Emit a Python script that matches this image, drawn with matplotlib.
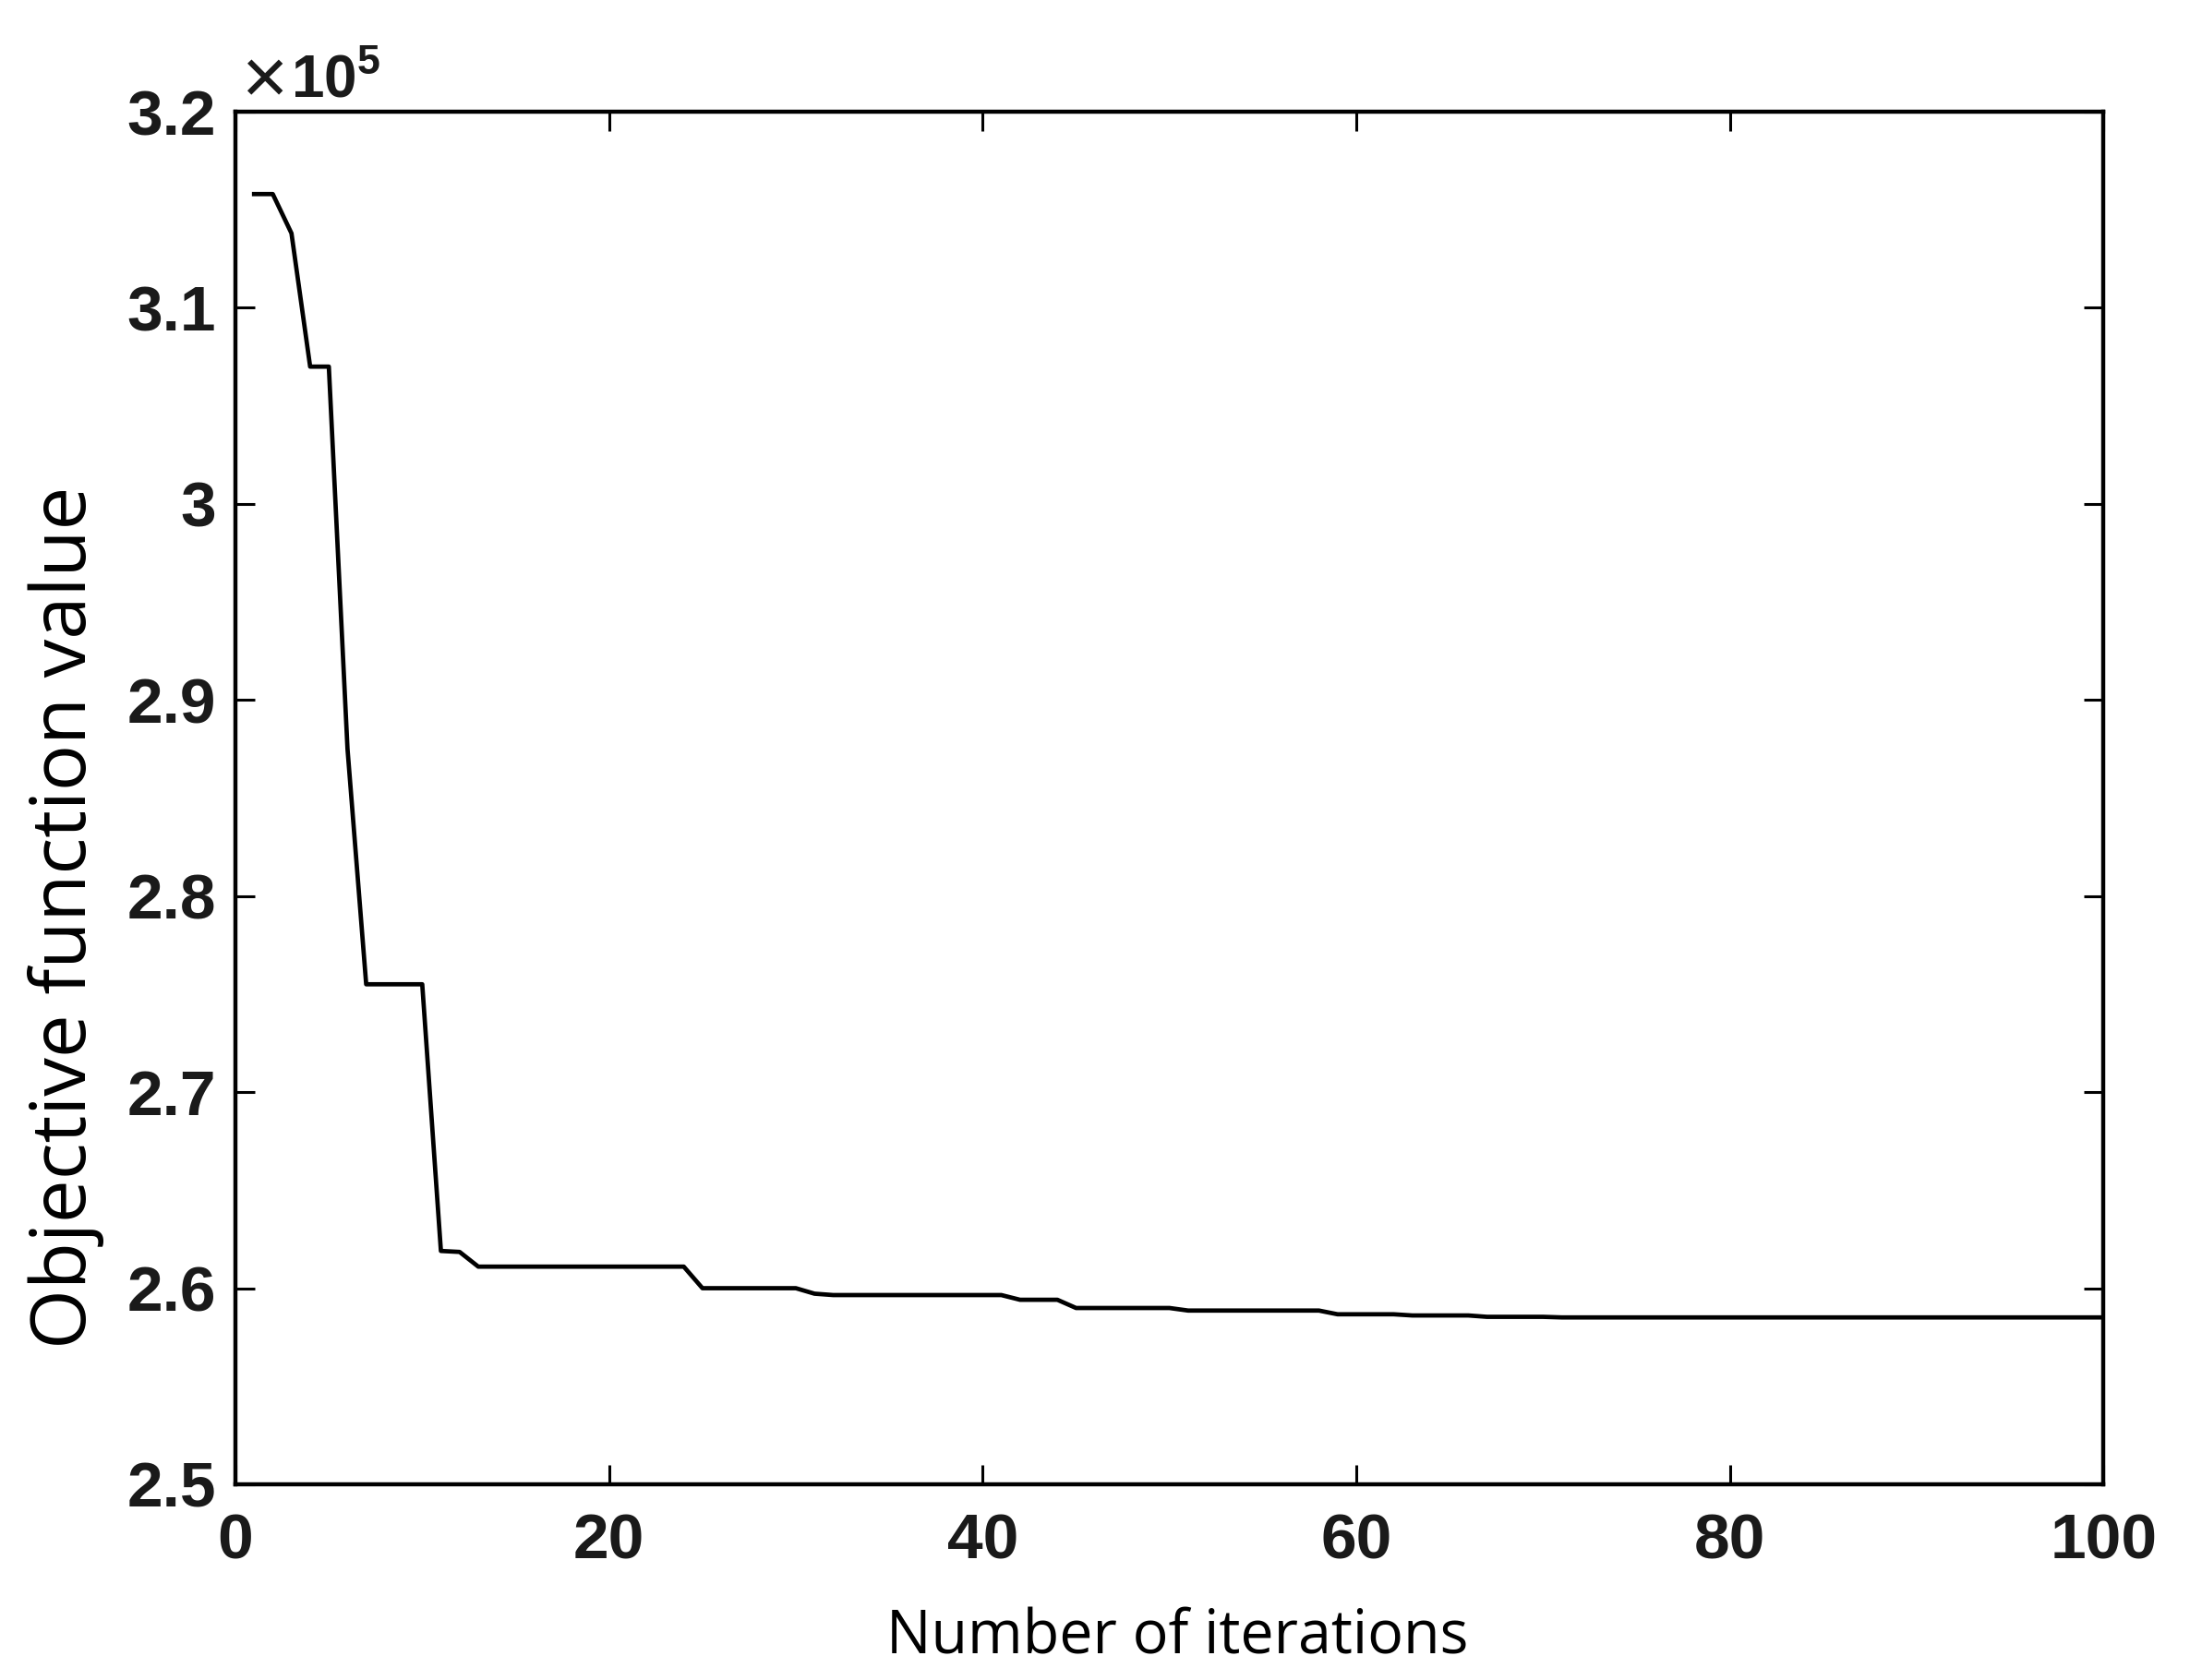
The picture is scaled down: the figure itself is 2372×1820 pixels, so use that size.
import matplotlib
matplotlib.use('Agg')
import matplotlib.pyplot as plt
from matplotlib.ticker import FuncFormatter, MultipleLocator

# objective value per iteration
iterations = list(range(1, 101))
objective = [
    315800, 315800, 313800, 307000, 307000, 287500, 275500, 275500, 275500, 275500,
    261900, 261850, 261100, 261100, 261100, 261100, 261100, 261100, 261100, 261100,
    261100, 261100, 261100, 261100, 260000, 260000, 260000, 260000, 260000, 260000,
    259720, 259650, 259650, 259650, 259650, 259650, 259650, 259650, 259650, 259650,
    259650, 259410, 259410, 259410, 258990, 258990, 258990, 258990, 258990, 258990,
    258860, 258860, 258860, 258860, 258860, 258860, 258860, 258860, 258670, 258670,
    258670, 258670, 258610, 258610, 258610, 258610, 258540, 258540, 258540, 258540,
    258510, 258510, 258510, 258510, 258510, 258510, 258510, 258510, 258510, 258510,
    258510, 258510, 258510, 258510, 258510, 258510, 258510, 258510, 258510, 258510,
    258510, 258510, 258510, 258510, 258510, 258510, 258510, 258510, 258510, 258510,
]

plt.rcParams['mathtext.fontset'] = 'custom'
plt.rcParams['mathtext.rm'] = 'Liberation Sans'
plt.rcParams['mathtext.bf'] = 'Liberation Sans:bold'

fig = plt.figure(figsize=(23.72, 18.2), dpi=100)
ax = fig.add_axes([0.1075, 0.1165, 0.853, 0.817])

ax.plot(iterations, objective, color='black', linewidth=3.4)

ax.set_xlim(0, 100)
ax.set_ylim(250000, 320000)
ax.xaxis.set_major_locator(MultipleLocator(20))
ax.yaxis.set_major_locator(MultipleLocator(10000))
ax.yaxis.set_major_formatter(FuncFormatter(lambda v, p: '%g' % round(v / 1e5, 2)))

for s in ax.spines.values():
    s.set_linewidth(3.2)
ax.tick_params(axis='both', direction='in', length=15, width=2.2, top=True, right=True,
               labelsize=50)
ax.tick_params(axis='y', pad=15)
ax.tick_params(axis='x', pad=22)
for lab in ax.get_xticklabels() + ax.get_yticklabels():
    lab.set_fontfamily('Liberation Sans')
    lab.set_fontweight('bold')
    lab.set_color('#1a1a1a')

# scale factor above the y axis, MATLAB style
ax.text(0.003, 1.006, '×', transform=ax.transAxes, fontsize=62,
        family='Liberation Sans', ha='left', va='baseline', color='#1a1a1a')
ax.text(0.0295, 1.011, r'$\mathbf{10}^{\mathbf{5}}$', transform=ax.transAxes,
        fontsize=46, ha='left', va='baseline', color='#1a1a1a')

ax.set_xlabel('Number of iterations', fontsize=46.5, family='Open Sans')
ax.set_ylabel('Objective function value', fontsize=60, family='Open Sans')
ax.xaxis.set_label_coords(0.504, -0.09)
ax.yaxis.set_label_coords(-0.07, 0.413)

fig.savefig('out.png', dpi=100)
